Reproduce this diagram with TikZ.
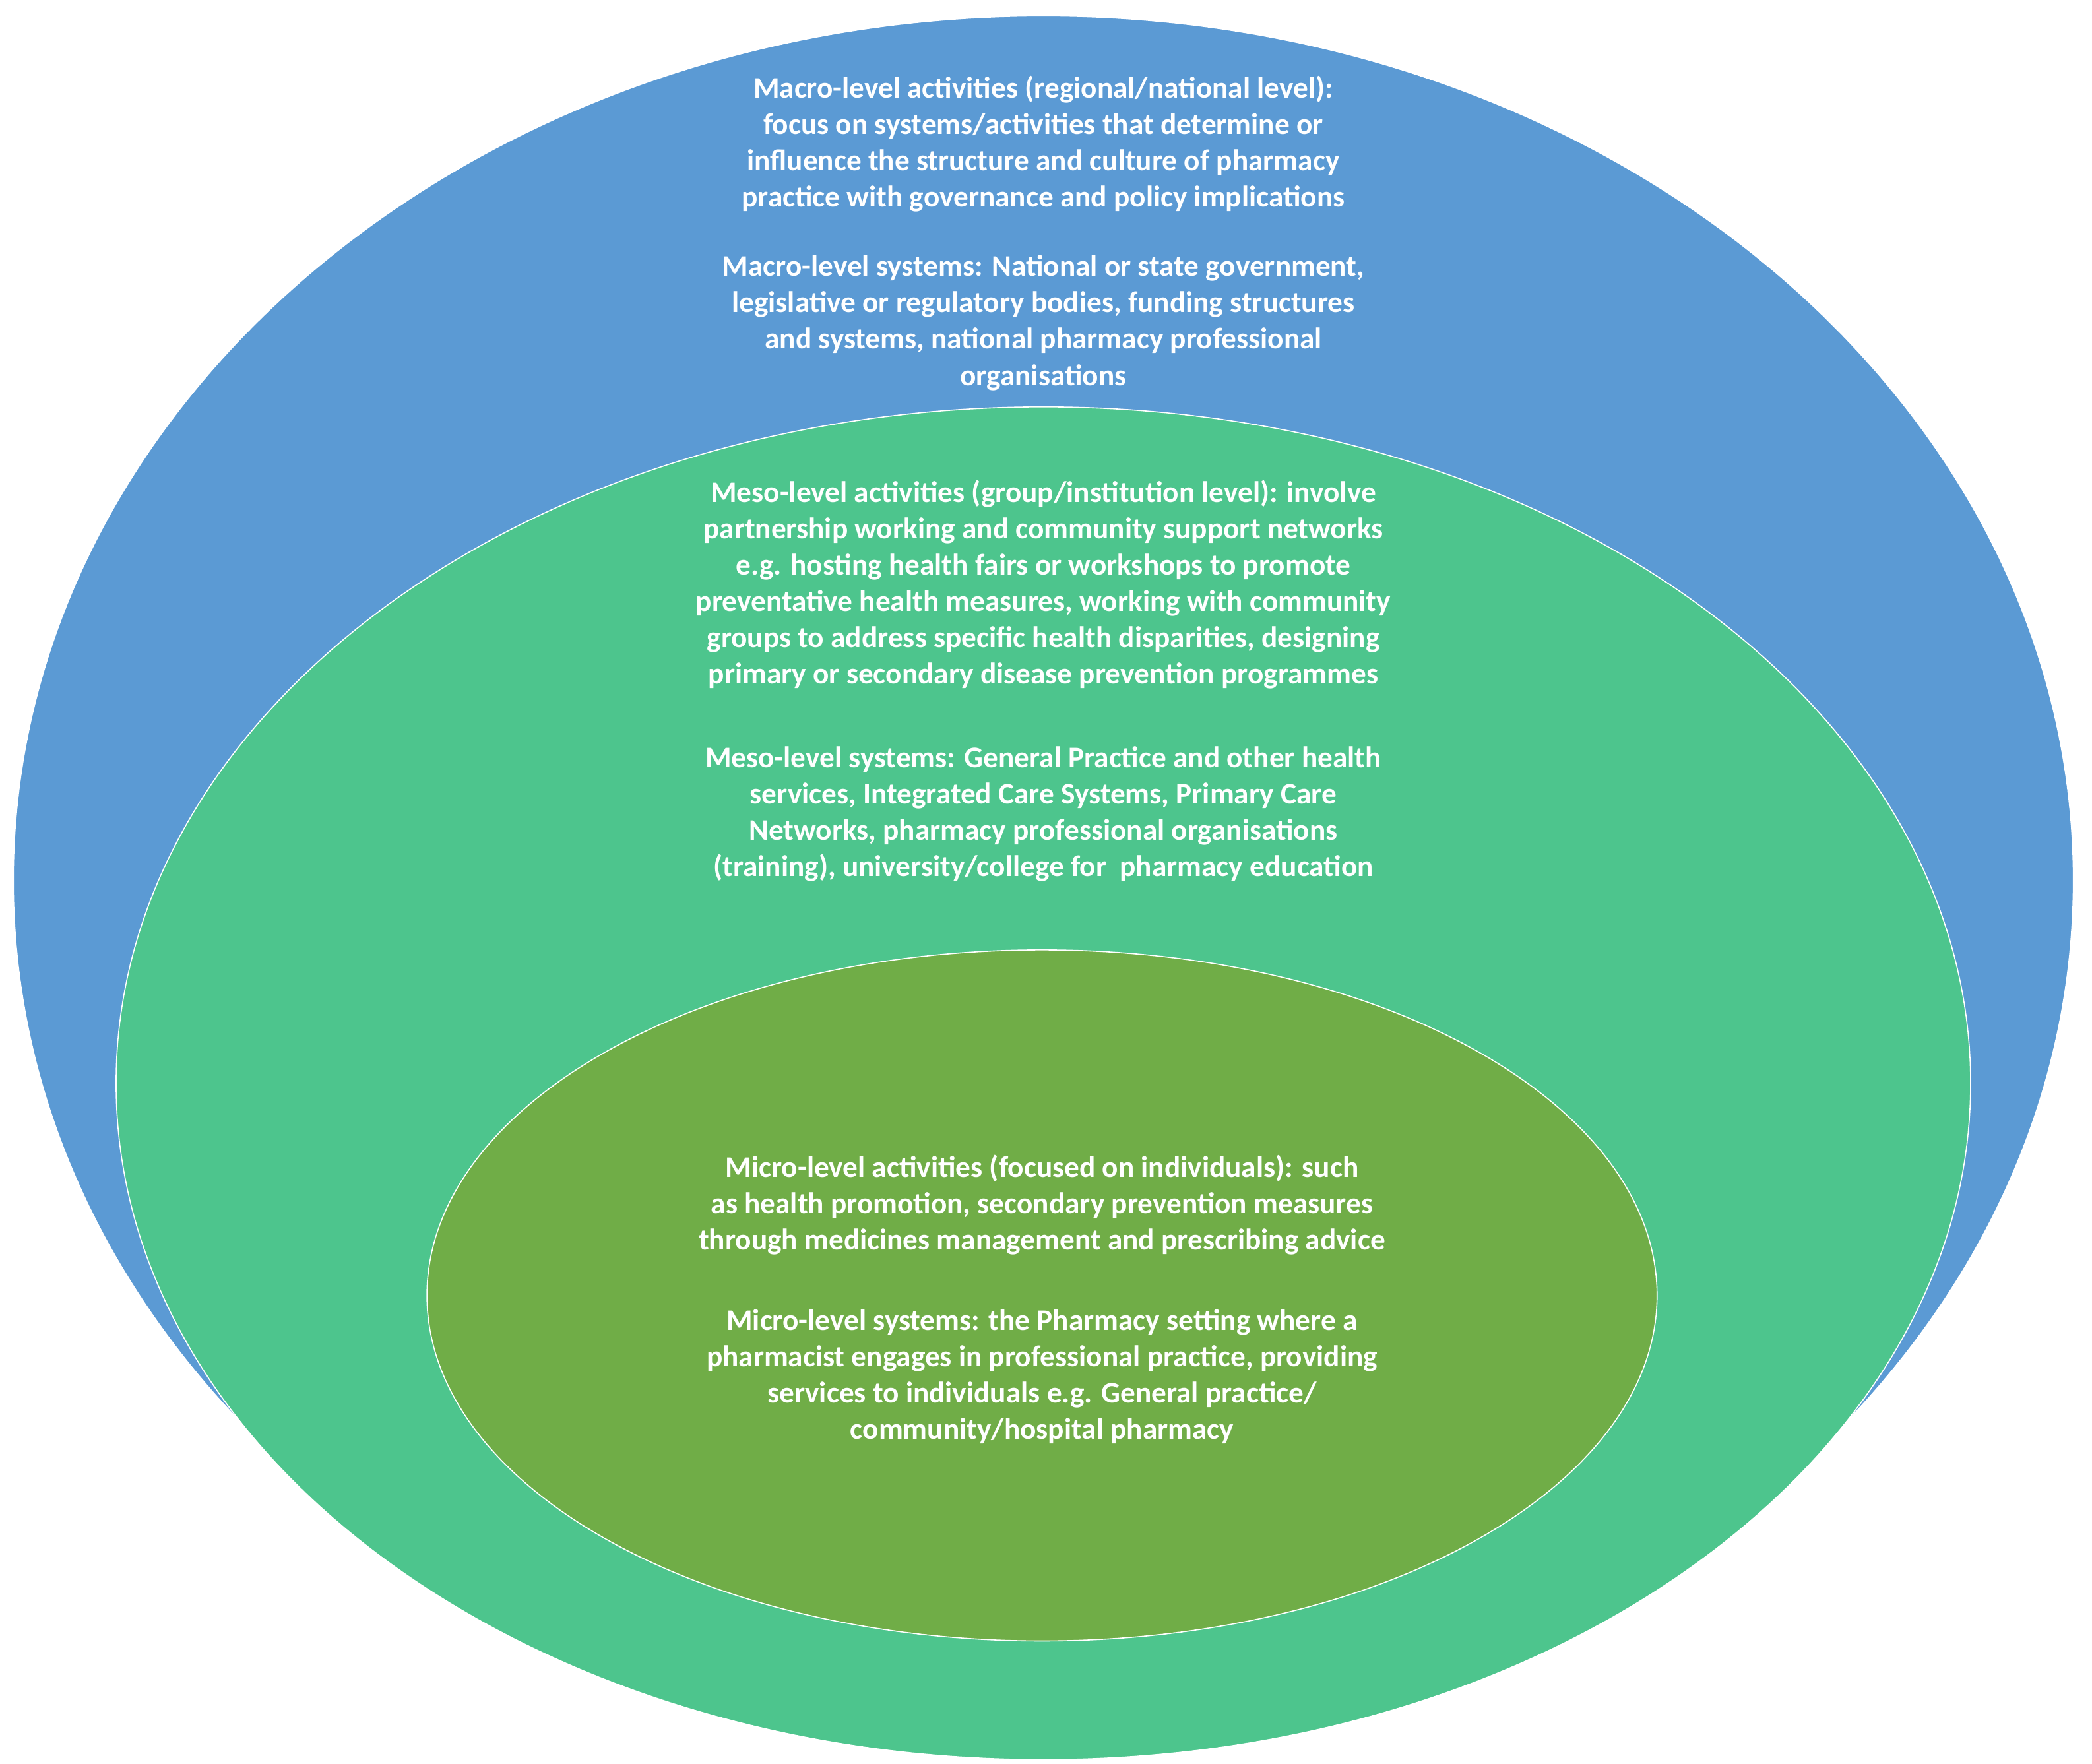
\documentclass[tikz,border=0pt]{standalone}
\usepackage{fontspec}
\setmainfont{Carlito}
\definecolor{macro}{HTML}{5B9AD4}
\definecolor{meso}{HTML}{4DC58D}
\definecolor{micro}{HTML}{70AD47}
\begin{document}
\begin{tikzpicture}[x=0.5pt,y=-0.5pt,
  lvl/.style={draw=white,line width=0.4pt},
  txt/.style={text=white,font=\fontsize{11.2}{13.6}\selectfont\bfseries,align=center,inner sep=0pt}]
\useasboundingbox (0,0) rectangle (1568,1322);
\begin{scope}
\clip (0,0) rectangle (1568,1322);
\fill[macro,lvl] (782,660) ellipse [x radius=772,y radius=648];
\fill[meso,lvl] (782,812) ellipse [x radius=695,y radius=507];
\fill[micro,lvl] (781,971) ellipse [x radius=461,y radius=259];
\end{scope}
\node[txt] (ma) at (782,108) {Macro-level activities (regional/national level):\\focus on systems/activities that determine or\\influence the structure and culture of pharmacy\\practice with governance and policy implications};
\node[txt] (ms) at (782,242) {Macro-level systems: National or state government,\\legislative or regulatory bodies, funding structures\\and systems, national pharmacy professional\\organisations};
\node[txt] (ea) at (782,438) {Meso-level activities (group/institution level): involve\\partnership working and community support networks\\e.g. hosting health fairs or workshops to promote\\preventative health measures, working with community\\groups to address specific health disparities, designing\\primary or secondary disease prevention programmes};
\node[txt] (es) at (782,610) {Meso-level systems: General Practice and other health\\services, Integrated Care Systems, Primary Care\\Networks, pharmacy professional organisations\\(training), university/college for\ \ pharmacy education};
\node[txt] (ia) at (781,903) {Micro-level activities (focused on individuals): such\\as health promotion, secondary prevention measures\\through medicines management and prescribing advice};
\node[txt] (is) at (781,1032) {Micro-level systems: the Pharmacy setting where a\\pharmacist engages in professional practice, providing\\services to individuals e.g. General practice/\\community/hospital pharmacy};
\end{tikzpicture}
\end{document}
